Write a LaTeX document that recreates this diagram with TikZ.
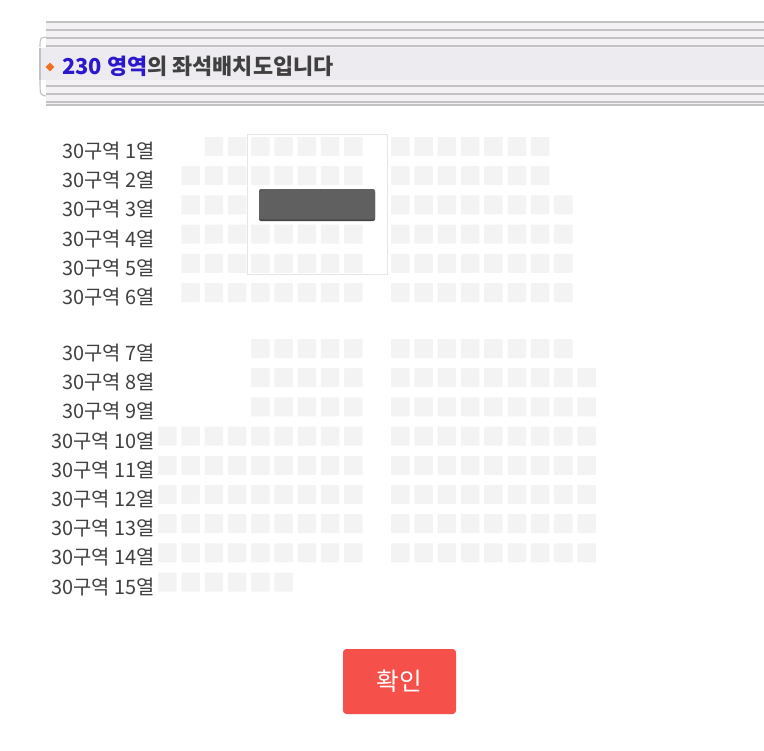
\documentclass[tikz,border=0pt]{standalone}
\usepackage{fontspec}
\usetikzlibrary{shapes.geometric}
\setmainfont{Noto Sans CJK KR}
\newfontfamily\krfont{Noto Sans CJK KR}
\definecolor{seatc}{HTML}{F3F3F3}
\definecolor{labelc}{HTML}{404040}
\definecolor{hdrbg}{HTML}{EDEBEF}
\definecolor{hdrline}{HTML}{C2C2C4}
\definecolor{hdrblue}{HTML}{2B17CC}
\definecolor{hdrorange}{HTML}{F07020}
\definecolor{stagec}{HTML}{606060}
\definecolor{btnc}{HTML}{F5504A}
\begin{document}
\begin{tikzpicture}[x=0.75pt,y=-0.75pt,
  seat/.style={fill=seatc, draw=none, rounded corners=0.6pt},
  rowlabel/.style={anchor=base east, inner sep=0pt, text=labelc, font=\krfont\fontsize{14.9pt}{16pt}\selectfont},
  hline/.style={draw=hdrline, line width=1.5pt}]
\useasboundingbox (0,0) rectangle (764,750);
\fill[white] (0,0) rectangle (764,750);
% header
\fill[hdrbg!70!white] (46,21) rectangle (764,106);
\foreach \yy in {22,30,38,46,86,94,102,105} \draw[hline] (46,\yy) -- (764,\yy);
\fill[hdrbg] (40,47.5) rectangle (764,79.5);
\draw[hdrline, line width=0.8pt] (40,47.5) -- (40,79.5);
\draw[hdrline, line width=0.8pt] (40,47) .. controls (40,38) .. (46,37);
\draw[hdrline, line width=0.8pt] (40,80) .. controls (40,95) .. (46,96);
\node[fill=hdrorange, diamond, minimum width=6.8pt, minimum height=6.8pt, inner sep=0pt, draw=none] (dia) at (50,67) {};
\node[anchor=base west, inner sep=0pt, font=\krfont\bfseries\fontsize{16.4pt}{18pt}\selectfont] (title) at (62,74)
  {\textcolor{hdrblue}{230 영역}\textcolor{labelc}{의 좌석배치도입니다}};
% stage box
\node[draw=black!10, line width=0.6pt, minimum width=140*0.75pt, minimum height=140*0.75pt, inner sep=0pt] (stagebox) at (317,204) {};
% seats
\foreach \rn/\ty/\ls/\le/\rs/\re in {
  1/137/2/8/0/6, 2/166.2/1/8/0/6, 3/195.4/1/3/0/7, 4/224.6/1/8/0/7, 5/253.8/1/8/0/7, 6/283/1/8/0/7,
  7/339/4/8/0/7, 8/368.2/4/8/0/8, 9/397.4/4/8/0/8, 10/426.6/0/8/0/8, 11/455.8/0/8/0/8,
  12/485/0/8/0/8, 13/514.2/0/8/0/8, 14/543.4/0/8/0/8, 15/572.6/0/5/1/0} {
  \node[rowlabel] (lab\rn) at (155,\ty+21.5) {30구역 \rn{}열};
  \foreach \c in {\ls,...,\le} {
    \path[seat] (158+23.25*\c,\ty) rectangle ++(18.5,19);
  }
  \ifnum\rs>\re\relax\else
  \foreach \c in {\rs,...,\re} {
    \path[seat] (391+23.3*\c,\ty) rectangle ++(18.5,19);
  }
  \fi
}
% stage bar
\fill[black!75, rounded corners=1.5pt] (259,190) rectangle (375,221);
\fill[stagec, rounded corners=1.5pt] (259,189) rectangle (375,219.5);
% button
\node[fill=btnc, rounded corners=2.5pt, minimum width=113*0.75pt, minimum height=65*0.75pt, inner sep=0pt,
  text=white, font=\krfont\fontsize{18.5pt}{20pt}\selectfont] (ok) at (399.5,681.5) {확인};
\end{tikzpicture}
\end{document}
